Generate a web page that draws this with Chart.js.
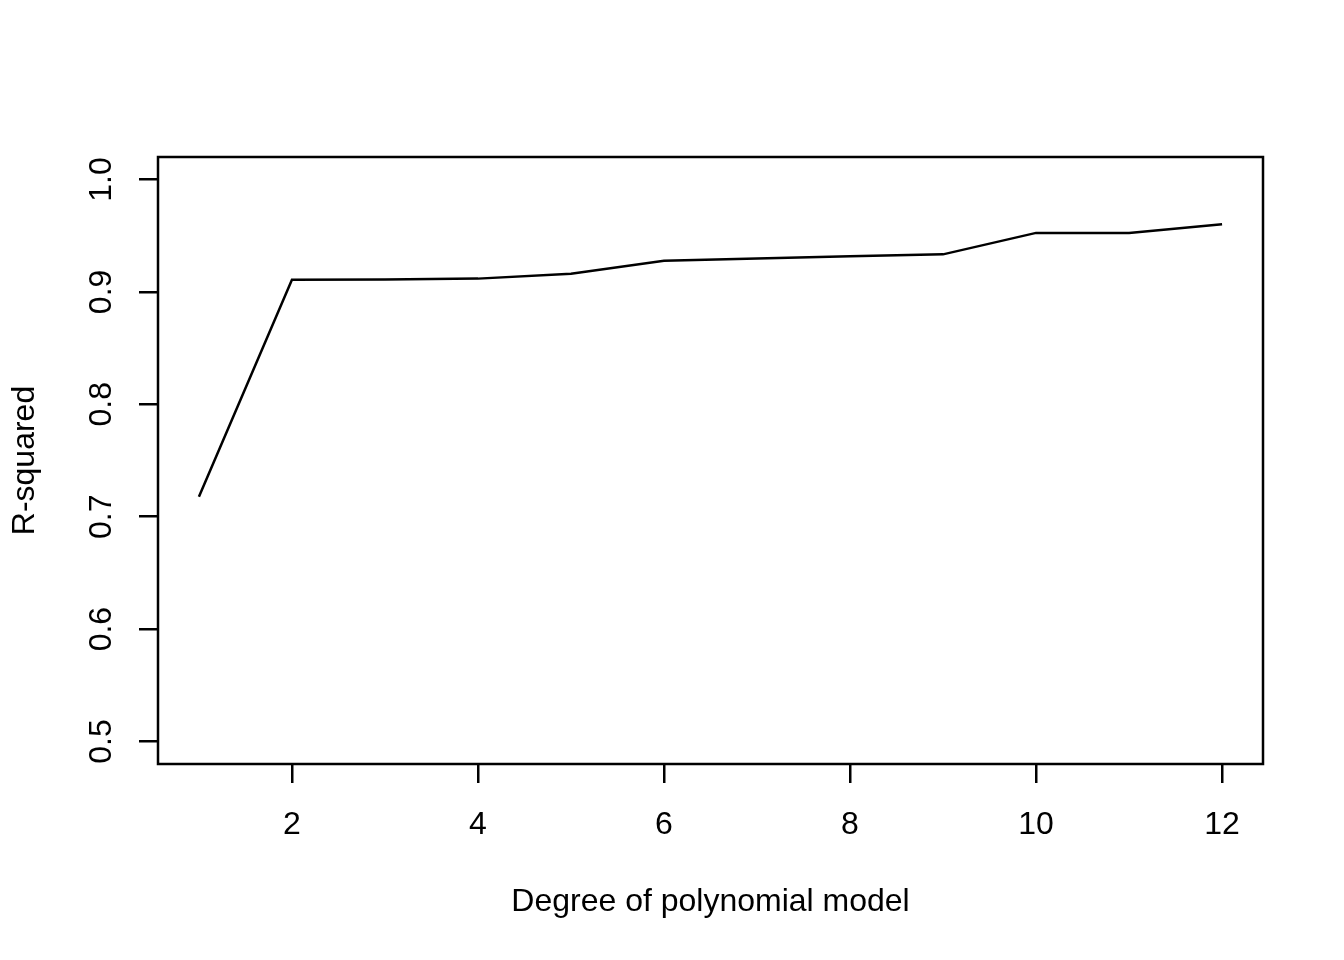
<!DOCTYPE html>
<html>
<head>
<meta charset="utf-8">
<script src="https://cdn.jsdelivr.net/npm/chart.js@4/dist/chart.umd.min.js"></script>
<style>
  html, body { margin: 0; padding: 0; background: #fff; }
  #wrap { width: 1344px; height: 960px; }
</style>
</head>
<body>
<div id="wrap"><canvas id="myChart"></canvas></div>
<script>
var degrees = [1, 2, 3, 4, 5, 6, 7, 8, 9, 10, 11, 12];
var rSquared = [0.7177, 0.9109, 0.9110, 0.9118, 0.9162, 0.9278, 0.9296, 0.9316, 0.9334, 0.9525, 0.9525, 0.9602];
var xTicks = [2, 4, 6, 8, 10, 12];
var yTicks = [0.5, 0.6, 0.7, 0.8, 0.9, 1.0];

var font = "'Liberation Sans', Arial, Helvetica, sans-serif";

// R style box around the plot region
var boxPlugin = {
  id: 'box',
  afterDraw: function(chart) {
    var a = chart.chartArea, c = chart.ctx;
    c.save();
    c.strokeStyle = '#000';
    c.lineWidth = 2.5;
    c.strokeRect(a.left, a.top, a.right - a.left, a.bottom - a.top);
    c.restore();
  }
};

var ctx = document.getElementById('myChart').getContext('2d');
var myChart = new Chart(ctx, {
  type: 'line',
  data: {
    datasets: [{
      data: degrees.map(function(d, i) { return { x: d, y: rSquared[i] }; }),
      borderColor: '#000',
      borderWidth: 2.5,
      pointRadius: 0,
      tension: 0,
      fill: false
    }]
  },
  options: {
    responsive: true,
    maintainAspectRatio: false,
    animation: false,
    layout: { padding: { top: 157, right: 81, left: 0, bottom: 0 } },
    plugins: {
      legend: { display: false },
      tooltip: { enabled: false }
    },
    scales: {
      x: {
        type: 'linear',
        min: 0.56,
        max: 12.44,
        afterBuildTicks: function(scale) {
          scale.ticks = xTicks.map(function(v) { return { value: v }; });
        },
        afterFit: function(scale) { scale.height = 196; },
        border: { display: false },
        grid: { drawOnChartArea: false, drawTicks: true, tickLength: 19, lineWidth: 2.5, color: '#000' },
        ticks: {
          color: '#000',
          padding: 23,
          maxRotation: 0,
          font: { family: font, size: 32 },
          callback: function(v) { return String(v); }
        },
        title: {
          display: true,
          text: 'Degree of polynomial model',
          color: '#000',
          font: { family: font, size: 32 },
          padding: { top: 0, bottom: 39 }
        }
      },
      y: {
        type: 'linear',
        min: 0.48,
        max: 1.02,
        afterBuildTicks: function(scale) {
          scale.ticks = yTicks.map(function(v) { return { value: v }; });
        },
        afterFit: function(scale) { scale.width = 158; },
        border: { display: false },
        grid: { drawOnChartArea: false, drawTicks: true, tickLength: 19, lineWidth: 2.5, color: '#000' },
        ticks: {
          color: '#000',
          padding: 15,
          minRotation: 90,
          maxRotation: 90,
          crossAlign: 'center',
          font: { family: font, size: 32 },
          callback: function(v) { return v.toFixed(1); }
        },
        title: {
          display: true,
          text: 'R-squared',
          color: '#000',
          font: { family: font, size: 32 },
          padding: { top: 6, bottom: 0 }
        }
      }
    }
  },
  plugins: [boxPlugin]
});
</script>
</body>
</html>
